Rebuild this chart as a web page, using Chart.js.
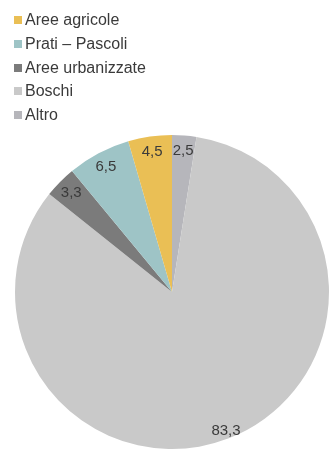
<!DOCTYPE html>
<html lang="it">
<head>
<meta charset="UTF-8">
<title>Uso del suolo</title>
<style>
    html, body {
        margin: 0;
        padding: 0;
        background: #ffffff;
        font-family: 'Liberation Sans', Arial, sans-serif;
    }
    #wrap {
        position: relative;
        width: 330px;
        height: 453px;
    }
    #pie {
        position: absolute;
        left: 0;
        top: 0;
    }
    #legend {
        position: absolute;
        left: 14px;
        top: 8px;
        margin: 0;
        padding: 0;
        list-style: none;
    }
    #legend li {
        height: 23.8px;
        line-height: 23.8px;
        font-size: 16px;
        color: #3a3a3a;
        white-space: nowrap;
    }
    #legend span {
        display: inline-block;
        width: 8px;
        height: 8px;
        margin-right: 3px;
        vertical-align: 1px;
    }
</style>
</head>
<body>
<div id="wrap">
    <canvas id="pie" width="330" height="453"></canvas>
    <ul id="legend"></ul>
</div>

<script src="https://cdn.jsdelivr.net/npm/chart.js"></script>
<script>
// legend order
const categories = ['Aree agricole', 'Prati \u2013 Pascoli', 'Aree urbanizzate', 'Boschi', 'Altro'];
const shares = [4.5, 6.5, 3.3, 83.3, 2.5];
const colours = ['#eabf55', '#9ec4c6', '#7b7b7b', '#c9c9c9', '#b6b6bb'];

// slices run counter-clockwise from 12 o'clock, so feed them reversed
const sliceLabels = categories.slice().reverse();
const sliceValues = shares.slice().reverse();
const sliceColours = colours.slice().reverse();

// legend
const legendEl = document.getElementById('legend');
categories.forEach((name, i) => {
    const li = document.createElement('li');
    const box = document.createElement('span');
    box.style.background = colours[i];
    li.appendChild(box);
    li.appendChild(document.createTextNode(name));
    legendEl.appendChild(li);
});

// values written inside each slice, near the rim
const sliceValuePlugin = {
    id: 'sliceValues',
    afterDatasetsDraw(chart) {
        const ctx = chart.ctx;
        const meta = chart.getDatasetMeta(0);
        ctx.save();
        ctx.font = '15px "Liberation Sans", Arial, sans-serif';
        ctx.fillStyle = '#3a3a3a';
        ctx.textAlign = 'center';
        ctx.textBaseline = 'middle';
        meta.data.forEach((arc, i) => {
            const v = sliceValues[i];
            const p = arc.getProps(['x', 'y', 'startAngle', 'endAngle', 'outerRadius'], true);
            const mid = (p.startAngle + p.endAngle) / 2;
            const r = p.outerRadius * (v > 50 ? 0.95 : 0.9);
            ctx.fillText(v.toFixed(1).replace('.', ','), p.x + Math.cos(mid) * r, p.y + Math.sin(mid) * r);
        });
        ctx.restore();
    }
};

new Chart(document.getElementById('pie'), {
    type: 'pie',
    data: {
        labels: sliceLabels,
        datasets: [{
            data: sliceValues,
            backgroundColor: sliceColours,
            borderWidth: 0
        }]
    },
    options: {
        responsive: false,
        animation: false,
        layout: {
            padding: { left: 15, right: 1, top: 135, bottom: 4 }
        },
        plugins: {
            legend: { display: false },
            tooltip: { enabled: false }
        }
    },
    plugins: [sliceValuePlugin]
});
</script>
</body>
</html>
